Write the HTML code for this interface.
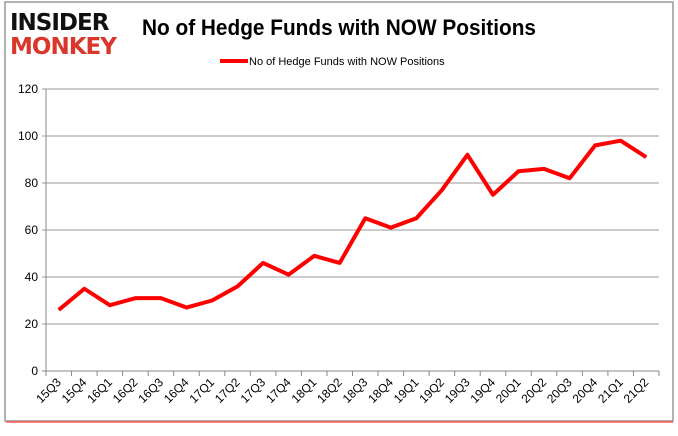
<!DOCTYPE html>
<html><head><meta charset="utf-8"><style>
body{margin:0;background:#fff;width:678px;height:431px;overflow:hidden;font-family:"Liberation Sans",sans-serif}
</style></head><body>
<svg id="c" width="678" height="431">
<rect x="5" y="2" width="668" height="419" fill="#fff" stroke="#999" stroke-width="1.5"/>
<line x1="6" y1="422" x2="673" y2="422" stroke="#f33" stroke-width="2" opacity="0.6"/>
<g>
<text x="10" y="30" font-family="DejaVu Sans" font-weight="bold" font-size="23" fill="#111" letter-spacing="-1">INSIDER</text>
<text x="10" y="54" font-family="DejaVu Sans" font-weight="bold" font-size="23" fill="#d9372b" letter-spacing="-1">MONKEY</text>
</g>
<text x="142" y="35" font-size="22" font-weight="bold" textLength="394" lengthAdjust="spacingAndGlyphs" fill="#000" font-family="Liberation Sans">No of Hedge Funds with NOW Positions</text>
<line x1="220" y1="61" x2="248" y2="61" stroke="#f00" stroke-width="4"/>
<text x="249" y="65" font-size="11" fill="#000">No of Hedge Funds with NOW Positions</text>
<g id="plot"></g>
</svg>
<script>
const categories=["15Q3","15Q4","16Q1","16Q2","16Q3","16Q4","17Q1","17Q2","17Q3","17Q4","18Q1","18Q2","18Q3","18Q4","19Q1","19Q2","19Q3","19Q4","20Q1","20Q2","20Q3","20Q4","21Q1","21Q2"];
const values=[26,35,28,31,31,27,30,36,46,41,49,46,65,61,65,77,92,75,85,86,82,96,98,91];
const yTicks=[0,20,40,60,80,100,120];
const NS="http://www.w3.org/2000/svg";
const g=document.getElementById('plot');
const X0=46,X1=659,Y0=371,Y1=89;
const step=(X1-X0)/categories.length;
const xs=i=>X0+step*(i+0.5);
const ys=v=>Y0-(v/120)*(Y0-Y1);
function mk(t,a){const e=document.createElementNS(NS,t);for(const k in a)e.setAttribute(k,a[k]);g.appendChild(e);return e;}
yTicks.forEach(t=>{
 const l=mk('line',{x1:X0-4,x2:X1,y1:ys(t),y2:ys(t),stroke:t===0?'#888':'#999','stroke-width':1});
 
 
 const tx=mk('text',{x:X0-8,y:ys(t)+4,'text-anchor':'end','font-size':12,fill:'#000'});
 tx.textContent=t;
 
 
});
const ax=mk('line',{x1:X0,x2:X0,y1:Y1,y2:Y0,stroke:'#888'});


for(let i=0;i<=categories.length;i++){
 const t=mk('line',{x1:X0+step*i,x2:X0+step*i,y1:Y0,y2:Y0+5,stroke:'#888'});
 
 
}
categories.forEach((c,i)=>{
 const x=xs(i)+3,y=Y0+12;
 const tx=mk('text',{x:x,y:y,'text-anchor':'end','font-size':12,fill:'#000',transform:`rotate(-45 ${x} ${y})`});
 tx.textContent=c;
 
 
});
const p=mk('polyline',{points:values.map((v,i)=>xs(i)+','+ys(v)).join(' '),fill:'none',stroke:'#f00','stroke-width':4,'stroke-linejoin':'round'});


</script>
</body></html>
